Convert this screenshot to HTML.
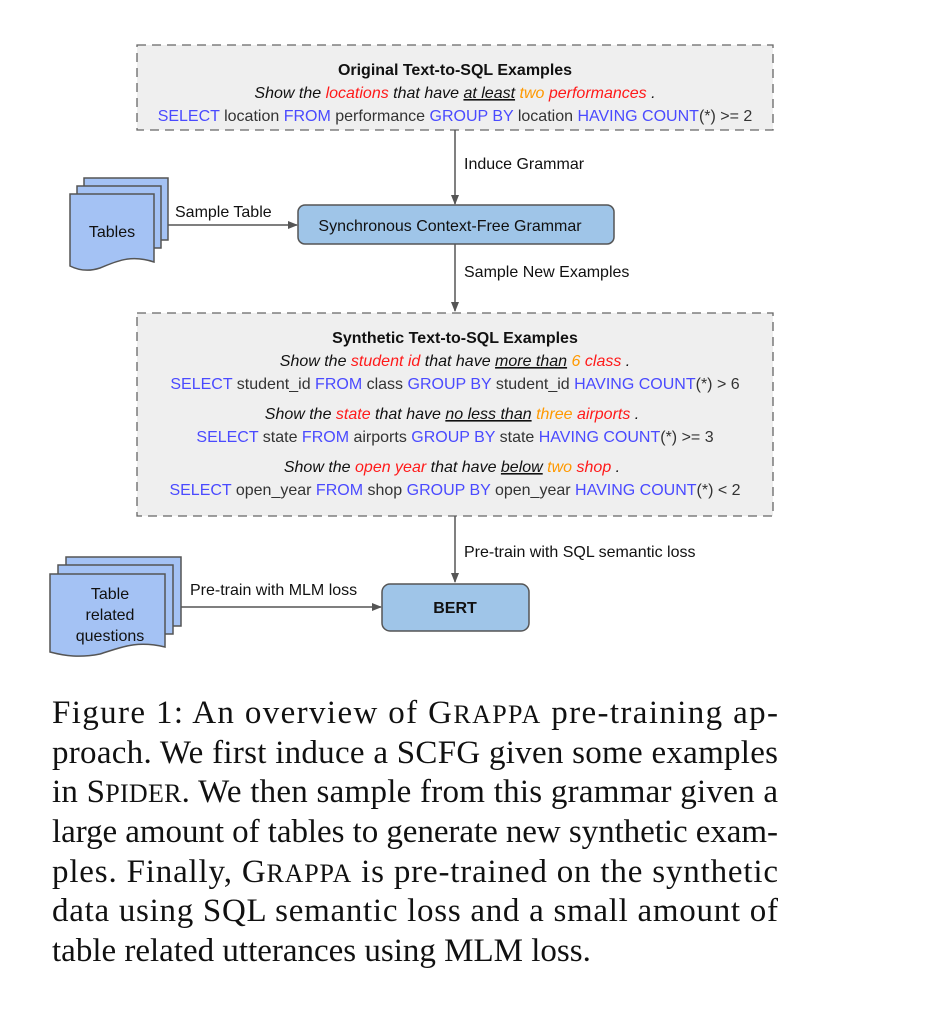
<!DOCTYPE html>
<html><head><meta charset="utf-8"><style>
html,body{margin:0;padding:0;background:#fff;width:952px;height:1018px;overflow:hidden}
svg{display:block}
.d{font-family:"Liberation Sans",Arial,sans-serif;font-size:16px;fill:#111}
.sql{fill:#333}
.k{fill:#4a4aff}
.r{fill:#ff1a1a}
.o{fill:#ff9900}
.cap{font-family:"Liberation Serif","Times New Roman",serif;font-size:33px;fill:#111}
</style></head><body>
<svg width="952" height="1018" viewBox="0 0 952 1018">
<defs><marker id="ah" markerWidth="10" markerHeight="8" refX="9" refY="4" orient="auto" markerUnits="userSpaceOnUse"><path d="M0,0 L10,4 L0,8z" fill="#555"/></marker></defs>

<g>
<rect x="137" y="45" width="636" height="85" fill="#efefef" stroke="#666" stroke-width="1.3" stroke-dasharray="9,6"/>
<text class="d" x="455" y="75" text-anchor="middle" font-weight="bold">Original Text-to-SQL Examples</text>
<text class="d" x="455" y="98" text-anchor="middle" font-style="italic">Show the <tspan class="r">locations</tspan> that have <tspan text-decoration="underline">at least</tspan> <tspan class="o">two</tspan> <tspan class="r">performances</tspan> .</text>
<text class="d sql" x="455" y="121" text-anchor="middle"><tspan class="k">SELECT</tspan> location <tspan class="k">FROM</tspan> performance <tspan class="k">GROUP BY</tspan> location <tspan class="k">HAVING COUNT</tspan>(*)  &gt;= 2</text>
</g>

<line x1="455" y1="130" x2="455" y2="204" stroke="#555" stroke-width="1.5" marker-end="url(#ah)"/>
<text class="d" x="464" y="169">Induce Grammar</text>

<g>
<rect x="298" y="205" width="316" height="39" rx="7" fill="#9fc5e8" stroke="#555" stroke-width="1.5"/>
<text class="d" x="450" y="231" text-anchor="middle">Synchronous Context-Free Grammar</text>
</g>

<g fill="#a4c2f4" stroke="#555" stroke-width="1.5">
<rect x="84" y="178" width="84" height="62"/>
<rect x="77" y="186" width="84" height="62"/>
<path d="M70,194 H154 V262 C130,254 115,262 100,268 C88,272 78,270 70,266 Z"/>
<text class="d" x="112" y="237" text-anchor="middle" stroke="none" fill="#111">Tables</text>
</g>

<line x1="168" y1="225" x2="297" y2="225" stroke="#555" stroke-width="1.5" marker-end="url(#ah)"/>
<text class="d" x="175" y="217">Sample Table</text>

<line x1="455" y1="244" x2="455" y2="311" stroke="#555" stroke-width="1.5" marker-end="url(#ah)"/>
<text class="d" x="464" y="277">Sample New Examples</text>

<g>
<rect x="137" y="313" width="636" height="203" fill="#efefef" stroke="#666" stroke-width="1.3" stroke-dasharray="9,6"/>
<text class="d" x="455" y="343" text-anchor="middle" font-weight="bold">Synthetic Text-to-SQL Examples</text>
<text class="d" x="455" y="366" text-anchor="middle" font-style="italic">Show the <tspan class="r">student id</tspan> that have <tspan text-decoration="underline">more than</tspan> <tspan class="o">6</tspan> <tspan class="r">class</tspan> .</text>
<text class="d sql" x="455" y="389" text-anchor="middle"><tspan class="k">SELECT</tspan> student_id <tspan class="k">FROM</tspan> class <tspan class="k">GROUP BY</tspan> student_id <tspan class="k">HAVING COUNT</tspan>(*)  &gt; 6</text>
<text class="d" x="452" y="419" text-anchor="middle" font-style="italic">Show the <tspan class="r">state</tspan> that have <tspan text-decoration="underline">no less than</tspan> <tspan class="o">three</tspan> <tspan class="r">airports</tspan> .</text>
<text class="d sql" x="455" y="442" text-anchor="middle"><tspan class="k">SELECT</tspan> state <tspan class="k">FROM</tspan> airports <tspan class="k">GROUP BY</tspan> state <tspan class="k">HAVING COUNT</tspan>(*)  &gt;= 3</text>
<text class="d" x="452" y="472" text-anchor="middle" font-style="italic">Show the <tspan class="r">open year</tspan> that have <tspan text-decoration="underline">below</tspan> <tspan class="o">two</tspan> <tspan class="r">shop</tspan> .</text>
<text class="d sql" x="455" y="495" text-anchor="middle"><tspan class="k">SELECT</tspan> open_year <tspan class="k">FROM</tspan> shop <tspan class="k">GROUP BY</tspan> open_year <tspan class="k">HAVING COUNT</tspan>(*)  &lt; 2</text>
</g>

<line x1="455" y1="516" x2="455" y2="582" stroke="#555" stroke-width="1.5" marker-end="url(#ah)"/>
<text class="d" x="464" y="557">Pre-train with SQL semantic loss</text>

<g>
<rect x="382" y="584" width="147" height="47" rx="8" fill="#9fc5e8" stroke="#555" stroke-width="1.5"/>
<text class="d" x="455" y="613" text-anchor="middle" font-weight="bold">BERT</text>
</g>

<g fill="#a4c2f4" stroke="#555" stroke-width="1.5">
<rect x="66" y="557" width="115" height="69"/>
<rect x="58" y="565" width="115" height="69"/>
<path d="M50,574 H165 V647 C135,640 120,648 100,654 C80,658 65,656 50,652 Z"/>
<text class="d" x="110" y="599" text-anchor="middle" stroke="none" fill="#111">Table</text>
<text class="d" x="110" y="620" text-anchor="middle" stroke="none" fill="#111">related</text>
<text class="d" x="110" y="641" text-anchor="middle" stroke="none" fill="#111">questions</text>
</g>

<line x1="181" y1="607" x2="381" y2="607" stroke="#555" stroke-width="1.5" marker-end="url(#ah)"/>
<text class="d" x="190" y="595">Pre-train with MLM loss</text>

<g class="cap">
<text x="52" y="723" textLength="726" lengthAdjust="spacing">Figure 1:  An overview of G<tspan font-size="26">RAPPA</tspan> pre-training ap-</text>
<text x="52" y="763" textLength="726" lengthAdjust="spacing">proach. We first induce a SCFG given some examples</text>
<text x="52" y="802" textLength="726" lengthAdjust="spacing">in S<tspan font-size="26">PIDER</tspan>. We then sample from this grammar given a</text>
<text x="52" y="842" textLength="726" lengthAdjust="spacing">large amount of tables to generate new synthetic exam-</text>
<text x="52" y="882" textLength="726" lengthAdjust="spacing">ples.  Finally, G<tspan font-size="26">RAPPA</tspan> is pre-trained on the synthetic</text>
<text x="52" y="921" textLength="726" lengthAdjust="spacing">data using SQL semantic loss and a small amount of</text>
<text x="52" y="961">table related utterances using MLM loss.</text>
</g>
</svg>
</body></html>
